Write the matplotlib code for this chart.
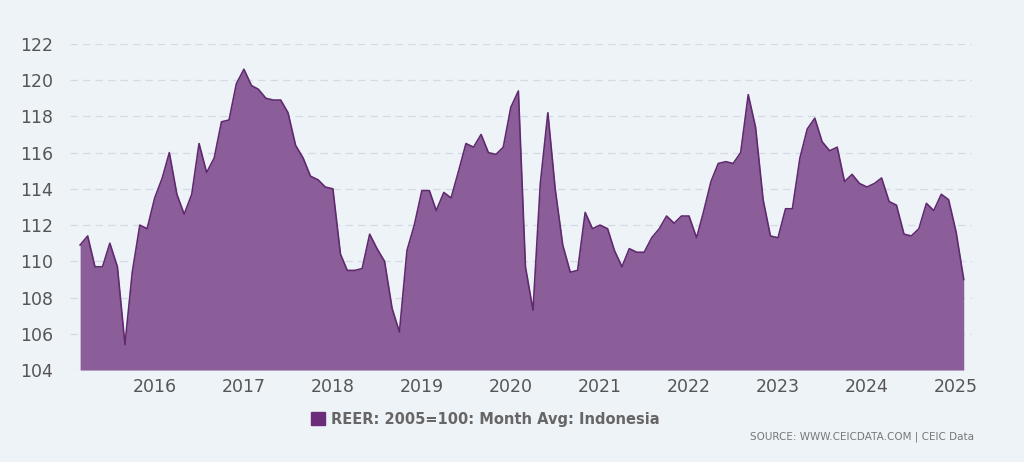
import matplotlib
matplotlib.use("Agg")
import matplotlib.pyplot as plt
import pandas as pd

start_month = "2015-03"
values = [
110.9, 111.4, 109.7, 109.7, 111.0, 109.7, 105.4, 109.4, 112.0, 111.8,
113.5, 114.6, 116.0, 113.7, 112.6, 113.7, 116.5, 114.9, 115.7, 117.7, 117.8, 119.8,
120.6, 119.7, 119.5, 119.0, 118.9, 118.9, 118.2, 116.4, 115.7, 114.7, 114.5, 114.1,
114.0, 110.4, 109.5, 109.5, 109.6, 111.5, 110.7, 110.0, 107.4, 106.1, 110.6, 112.0,
113.9, 113.9, 112.8, 113.8, 113.5, 115.0, 116.5, 116.3, 117.0, 116.0, 115.9, 116.3,
118.5, 119.4, 109.7, 107.3, 114.3, 118.2, 114.0, 110.9, 109.4, 109.5, 112.7, 111.8,
112.0, 111.8, 110.6, 109.7, 110.7, 110.5, 110.5, 111.3, 111.8, 112.5, 112.1, 112.5,
112.5, 111.3, 112.7, 114.4, 115.4, 115.5, 115.4, 116.0, 119.2, 117.4, 113.4, 111.4,
111.3, 112.9, 112.9, 115.7, 117.3, 117.9, 116.6, 116.1, 116.3, 114.4, 114.8, 114.3,
114.1, 114.3, 114.6, 113.3, 113.1, 111.5, 111.4, 111.8, 113.2, 112.8, 113.7, 113.4,
111.6, 109.0]
yticks = [104, 106, 108, 110, 112, 114, 116, 118, 120, 122]
year_ticks = list(range(2016, 2026))
series_label = "REER: 2005=100: Month Avg: Indonesia"

dates = pd.date_range(start_month, periods=len(values), freq="MS")
bg = "#eef3f8"
fig = plt.figure(figsize=(10.24, 4.62), dpi=100, facecolor=bg)
ax = fig.add_axes([0.068, 0.199, 0.881, 0.706], facecolor=bg)
ax.fill_between(dates, values, 104, color="#8c5e99", linewidth=0, zorder=2)
ax.plot(dates, values, color="#5f2a6e", linewidth=1.2, zorder=3)
ax.set_ylim(104, 122)
ax.set_xlim(pd.Timestamp("2015-01-17"), pd.Timestamp("2025-03-06"))
ax.set_yticks(yticks)
ax.set_xticks([pd.Timestamp(f"{y}-01-01") for y in year_ticks])
ax.set_xticklabels([str(y) for y in year_ticks])
ax.grid(axis="y", color="#d5dbe3", linestyle=(0, (6, 4)), linewidth=0.9, zorder=0)
for s in ax.spines.values():
    s.set_visible(False)
ax.tick_params(axis="both", length=0, labelsize=12.5, colors="#555555")
ax.tick_params(axis="y", pad=12)
ax.tick_params(axis="x", pad=6)
leg = fig.legend(handles=[plt.Rectangle((0, 0), 1, 1, color="#6b2c7a")], labels=[series_label],
                 loc="center", bbox_to_anchor=(0.474, 0.093), frameon=False,
                 handlelength=1.0, handleheight=0.9, handletextpad=0.4,
                 prop={"size": 10.5, "weight": "bold"})
for t in leg.get_texts():
    t.set_color("#666666")
fig.text(0.951, 0.055, "SOURCE: WWW.CEICDATA.COM | CEIC Data", ha="right", va="center",
         fontsize=7.5, color="#777777")
fig.savefig("out.png", dpi=100, facecolor=bg)
